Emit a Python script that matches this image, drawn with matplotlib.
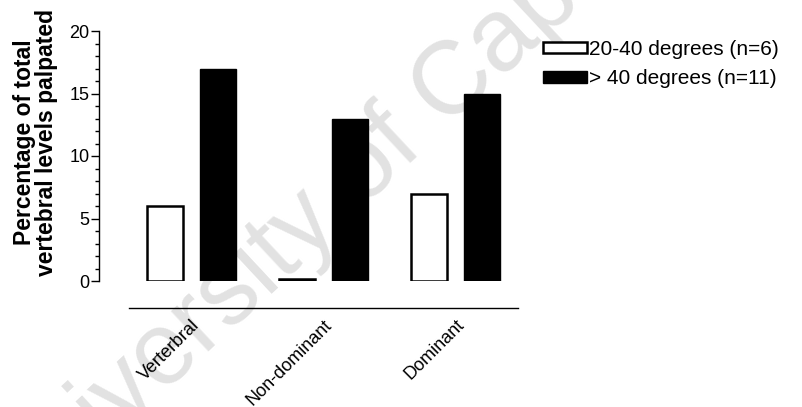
import matplotlib
matplotlib.use("Agg")
import matplotlib.pyplot as plt
import numpy as np

plt.rcParams['font.family'] = ['Liberation Sans', 'DejaVu Sans']

categories = ["Verterbral", "Non-dominant", "Dominant"]
low_angle = [6, 0.15, 7]      # 20-40 degrees (n=6)
high_angle = [17, 13, 15]     # > 40 degrees (n=11)
series_labels = ["20-40 degrees (n=6)", "> 40 degrees (n=11)"]

W, H = 803, 407
fig = plt.figure(figsize=(W / 100, H / 100), dpi=100)

# faint watermark behind everything
fig.text(398 / W, 1 - 138 / H, "University of Cape Town", fontsize=74,
         color='#e2e2e2', rotation=43, rotation_mode='anchor',
         ha='center', va='center', zorder=-5)

ax = fig.add_axes([99 / W, 1 - 281 / H, 420 / W, 250 / H])
ax.patch.set_alpha(0)

x = np.arange(len(categories))
width = 0.273
off = 0.2
ax.bar(x - off, low_angle, width, facecolor='white', edgecolor='black',
       linewidth=1.8, label=series_labels[0])
ax.bar(x + off, high_angle, width, facecolor='black', edgecolor='black',
       linewidth=1.0, label=series_labels[1])

ax.set_ylim(0, 20)
ax.set_xlim(-0.697, 2.48)
ax.set_yticks([0, 5, 10, 15, 20])
ax.set_yticks(np.arange(0, 21, 1), minor=True)
ax.tick_params(axis='y', which='major', length=6, width=1, labelsize=13, pad=1)
ax.tick_params(axis='y', which='minor', length=3, width=1)

ax.spines['top'].set_visible(False)
ax.spines['right'].set_visible(False)
ax.spines['left'].set_linewidth(1)
ax.spines['bottom'].set_position(('outward', 19.5))
ax.spines['bottom'].set_bounds(-0.47, 2.47)
ax.spines['bottom'].set_linewidth(1)

ax.set_xticks(x)
ax.set_xticklabels(categories, rotation=45, ha='right', rotation_mode='anchor',
                   fontsize=13)
ax.tick_params(axis='x', length=0, pad=6)

ax.set_ylabel("Percentage of total\nvertebral levels palpated", fontsize=16.5,
              fontweight='bold', linespacing=0.95)
ax.yaxis.set_label_coords(-0.098, 0.556)

fig.legend(loc='upper left', bbox_to_anchor=(543 / W, 1 - 40 / H), frameon=False,
           fontsize=15, handlelength=2.1, handleheight=0.45, handletextpad=0.1,
           labelspacing=0.5, borderaxespad=0, borderpad=0)

fig.savefig("out.png", dpi=100)
